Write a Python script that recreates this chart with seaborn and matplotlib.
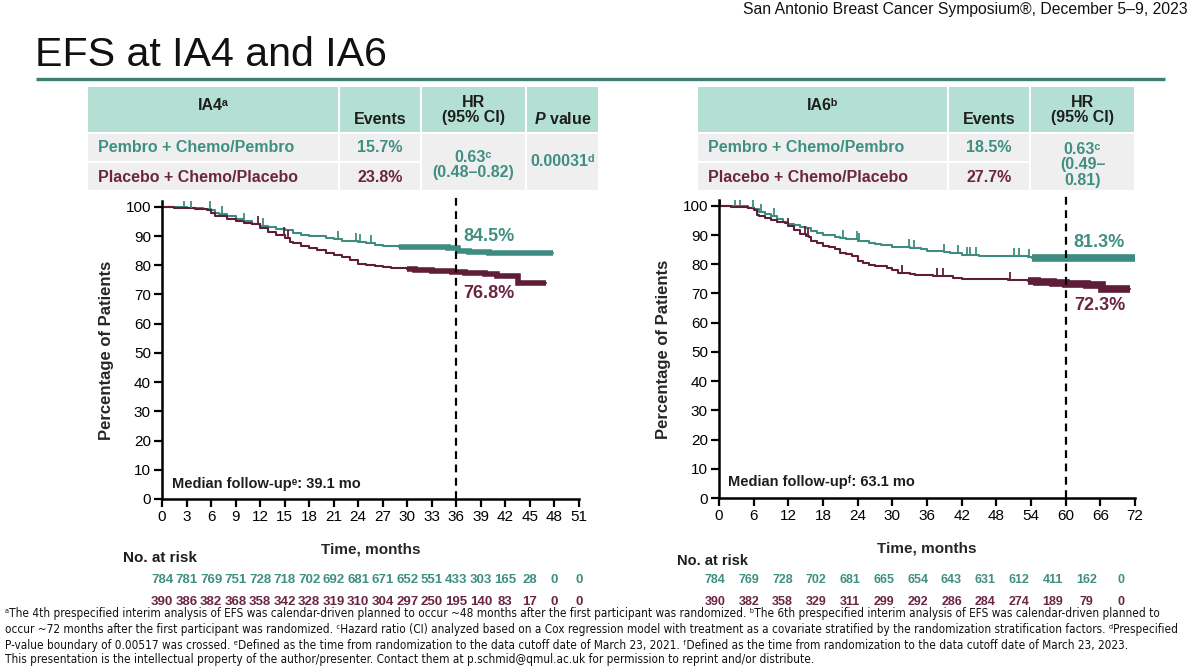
import numpy as np
import pandas as pd
import matplotlib
matplotlib.use("Agg")
import matplotlib.pyplot as plt
import matplotlib.transforms as mtrans
from matplotlib.patches import Rectangle
from matplotlib import font_manager
import seaborn as sns

TEAL = "#3e8c80"
MAROON = "#5e1e38"
TEAL_TXT = "#3f8f82"
MAROON_TXT = "#6b2543"
MINT = "#b4e0d4"
GREY = "#efefef"
INK = "#1e1e1e"

arms = ["Pembro + Chemo/Pembro", "Placebo + Chemo/Placebo"]

# ---- IA4 Kaplan-Meier steps (months, % event-free) ----
ia4_pem_t = [0, 1.5, 3, 5, 6, 6.5, 7, 8, 9, 10, 11, 12, 13, 14, 15, 16, 17, 18, 20, 21,
             22, 24, 25, 26, 27, 29, 31, 33, 35, 36.2, 37.5, 40, 47.8]
ia4_pem_s = [100, 99.8, 99.5, 99.2, 98.8, 98.0, 97.5, 96.7, 95.8, 95.0, 94.2, 93.5, 93.0, 92.5,
             92.0, 91.2, 90.4, 90.0, 89.5, 88.9, 88.4, 88.1, 87.5, 87.0, 86.6, 86.4, 86.3, 86.2,
             86.0, 84.9, 84.5, 84.1, 84.1]
ia4_pla_t = [0, 1.5, 4, 5.5, 6, 6.5, 8, 9, 10, 11, 12, 13, 14, 15, 15.7, 16, 17, 18, 19, 20,
             21, 22, 23, 24, 25, 26, 27, 28, 30, 31, 33, 35.5, 37, 39.5, 41, 43.5, 47]
ia4_pla_s = [100, 99.5, 99.2, 98.8, 98.0, 96.8, 96.0, 95.0, 94.5, 94.0, 92.8, 91.5, 90.2, 89.5,
             88.0, 87.5, 86.5, 86.0, 85.3, 84.2, 83.6, 83.0, 81.8, 80.6, 80.1, 79.8, 79.4, 78.9,
             78.6, 78.3, 77.9, 77.6, 77.3, 77.0, 76.2, 73.9, 73.9]
ia4_pem_cens = [2.7, 3.6, 5.9, 7.3, 10.0, 12.3, 21.5, 23.7, 24.2, 25.5]
ia4_pla_cens = [11.8, 14.9, 15.4]
ia4_dense_from = [29, 30]      # heavy censoring from here on (pembro, placebo)

# ---- IA6 ----
ia6_pem_t = [0, 3, 5, 6, 7, 8, 9, 10, 11, 12, 13, 14, 15, 16, 17, 18, 20, 21, 22, 24,
             26, 27, 28, 30, 33, 35, 36, 39, 40, 42, 45, 48, 53.5, 54.2, 72]
ia6_pem_s = [100, 99.8, 99.4, 98.9, 98.0, 97.2, 96.5, 95.5, 94.6, 93.8, 93.3, 92.8, 92.3, 91.3,
             90.6, 90.1, 89.5, 89.0, 88.5, 88.0, 87.3, 86.9, 86.5, 85.9, 85.6, 85.1, 84.5, 84.2,
             83.8, 83.2, 82.9, 82.8, 82.6, 82.2, 82.2]
ia6_pla_t = [0, 2, 3, 5, 6, 6.5, 7, 8, 9, 10, 11.5, 12, 13, 14, 15, 15.5, 16, 17, 18, 19,
             20, 21, 22, 23, 24, 25, 26, 27, 29, 30, 31, 33, 34, 37, 39, 40.5, 42, 45, 48, 50,
             52, 53.5, 55, 57.8, 60, 63.7, 66.3, 71.1]
ia6_pla_s = [100, 99.7, 99.5, 99.2, 98.5, 97.0, 96.5, 95.8, 95.2, 94.6, 94.0, 93.0, 91.7, 90.5,
             89.8, 89.3, 88.0, 87.4, 86.3, 85.8, 85.3, 83.8, 83.4, 83.0, 81.0, 80.3, 79.9, 79.5,
             78.7, 78.0, 77.1, 76.8, 76.2, 76.1, 75.9, 75.3, 75.0, 74.9, 74.8, 74.7, 74.5, 74.2,
             74.0, 73.5, 73.2, 72.9, 71.7, 71.7]
ia6_pem_cens = [2.7, 3.6, 5.9, 7.2, 9.6, 21.4, 23.9, 24.2, 32.8, 33.7, 39.0, 41.3, 43.0, 43.5,
                44.5, 51.0, 52.0, 53.7]
ia6_pla_cens = [0.1, 12.0, 14.9, 15.4, 31.6, 37.7, 38.8, 50.3]
ia6_dense_from = [54.2, 53.5]

# ---- number at risk ----
ia4_risk_t = list(range(0, 52, 3))
ia4_risk_pem = [784, 781, 769, 751, 728, 718, 702, 692, 681, 671, 652, 551, 433, 303, 165, 28, 0, 0]
ia4_risk_pla = [390, 386, 382, 368, 358, 342, 328, 319, 310, 304, 297, 250, 195, 140, 83, 17, 0, 0]
ia6_risk_t = list(range(0, 73, 6))
ia6_risk_pem = [784, 769, 728, 702, 681, 665, 654, 643, 631, 612, 411, 162, 0]
ia6_risk_pla = [390, 382, 358, 329, 311, 299, 292, 286, 284, 274, 189, 79, 0]

# ---- summary tables ----
ia4_header = ["IA4ᵃ", "Events", "HR\n(95% CI)", "$P$ value"]
ia4_events = ["15.7%", "23.8%"]
ia4_hr = "0.63ᶜ\n(0.48–0.82)"
ia4_p = "0.00031ᵈ"
ia6_header = ["IA6ᵇ", "Events", "HR\n(95% CI)"]
ia6_events = ["18.5%", "27.7%"]
ia6_hr = "0.63ᶜ\n(0.49–\n0.81)"

footnotes = [
    "ᵃThe 4th prespecified interim analysis of EFS was calendar-driven planned to occur ~48 months after the first participant was randomized. ᵇThe 6th prespecified interim analysis of EFS was calendar-driven planned to",
    "occur ~72 months after the first participant was randomized. ᶜHazard ratio (CI) analyzed based on a Cox regression model with treatment as a covariate stratified by the randomization stratification factors. ᵈPrespecified",
    "P-value boundary of 0.00517 was crossed. ᵉDefined as the time from randomization to the data cutoff date of March 23, 2021. ᶠDefined as the time from randomization to the data cutoff date of March 23, 2023.",
    "This presentation is the intellectual property of the author/presenter. Contact them at p.schmid@qmul.ac.uk for permission to reprint and/or distribute.",
]

sns.set_theme(style="ticks")
plt.rcParams["font.family"] = ["Liberation Sans", "DejaVu Sans"]
plt.rcParams["mathtext.fontset"] = "custom"
plt.rcParams["mathtext.it"] = "Liberation Sans:italic:bold"
plt.rcParams["mathtext.rm"] = "Liberation Sans:bold"

# narrow face for the footnotes, if there is one
NARROW, STRETCH = "Liberation Sans", "normal"
for f in font_manager.fontManager.ttflist:
    if f.name == "Liberation Sans Narrow":
        NARROW, STRETCH = f.name, "normal"
        break
    if f.name == "DejaVu Sans" and "condensed" in str(f.stretch):
        NARROW, STRETCH = "DejaVu Sans", "condensed"

fig = plt.figure(figsize=(12, 6.72), dpi=100)

# pixel canvas for slide furniture
bg = fig.add_axes([0, 0, 1, 1], zorder=0)
bg.set_xlim(0, 1200)
bg.set_ylim(672, 0)
bg.axis("off")

bg.text(1188, 14, "San Antonio Breast Cancer Symposium®, December 5–9, 2023",
        ha="right", va="baseline", fontsize=11.3, color="#111111")
bg.text(35, 66, "EFS at IA4 and IA6", ha="left", va="baseline", fontsize=29.6, color="#111111")
bg.plot([36, 1165], [79, 79], color="#3b7f75", lw=2.4, solid_capstyle="butt")


def draw_table(col_edges, header, events, hr, p=None):
    rows = [(87, 132), (134, 161), (163, 190)]
    for i in range(len(col_edges) - 1):
        x0, x1 = col_edges[i] + 1, col_edges[i + 1] - 1
        bg.add_patch(Rectangle((x0, rows[0][0]), x1 - x0, rows[0][1] - rows[0][0], color=MINT, lw=0))
        if i < 2:
            for r0, r1 in rows[1:]:
                bg.add_patch(Rectangle((x0, r0), x1 - x0, r1 - r0, color=GREY, lw=0))
        else:
            bg.add_patch(Rectangle((x0, rows[1][0]), x1 - x0, rows[2][1] - rows[1][0], color=GREY, lw=0))
    mid = [(col_edges[i] + col_edges[i + 1]) / 2 for i in range(len(col_edges) - 1)]
    kw = dict(fontsize=11.5, fontweight="bold", ha="center", va="center")
    bg.text(mid[0], 106, header[0], color=INK, **kw)
    bg.text(mid[1], 119, header[1], color=INK, **kw)
    bg.text(mid[2], 110, header[2], color=INK, linespacing=1.05, **kw)
    if p is not None:
        bg.text(mid[3], 119, header[3], color=INK, **kw)
        bg.text(mid[3], 162, p, color=TEAL_TXT, **kw)
    for (y, c), arm, ev in zip([(148, TEAL_TXT), (177, MAROON_TXT)], arms, events):
        bg.text(col_edges[0] + 11, y, arm, color=c, fontsize=11.5, fontweight="bold",
                ha="left", va="center")
        bg.text(mid[1], y, ev, color=c, **kw)
    bg.text(mid[2], 165, hr, color=TEAL_TXT, linespacing=1.05, **kw)


draw_table([87, 339, 421, 526, 599], ia4_header, ia4_events, ia4_hr, ia4_p)
draw_table([697, 948, 1030, 1135], ia6_header, ia6_events, ia6_hr)


def step_at(t_list, s_list, times):
    idx = np.searchsorted(t_list, times, side="right") - 1
    return np.asarray(s_list)[idx]


def km_panel(rect, pem, pla, cens, dense_from, band_lw, xmax, xstep, cut, labels, followup,
             risk, risk_fs, risk_squeeze):
    ax = fig.add_axes(rect, zorder=2)
    ax.patch.set_alpha(0)
    df = pd.concat([
        pd.DataFrame({"month": pem[0], "pct": pem[1], "arm": arms[0]}),
        pd.DataFrame({"month": pla[0], "pct": pla[1], "arm": arms[1]}),
    ])
    pal = {arms[0]: TEAL, arms[1]: MAROON}
    sns.lineplot(data=df, x="month", y="pct", hue="arm", palette=pal, estimator=None,
                 sort=False, drawstyle="steps-post", lw=1.5, legend=False, ax=ax)
    dense = pd.concat([df[(df.arm == a) & (df.month >= d)] for a, d in zip(arms, dense_from)])
    sns.lineplot(data=dense, x="month", y="pct", hue="arm", palette=pal, estimator=None,
                 sort=False, drawstyle="steps-post", lw=band_lw, legend=False,
                 solid_capstyle="butt", solid_joinstyle="miter", ax=ax)
    for (t, s), ct, col in zip([pem, pla], cens, [TEAL, MAROON]):
        ax.plot(ct, step_at(t, s, ct), ls="none", marker=2, ms=6, mew=1.3, color=col)

    ax.axvline(cut, ymin=0, ymax=1.02, color="black", ls=(0, (3.5, 2.5)), lw=1.6, clip_on=False)

    ax.set_xlim(0, xmax)
    ax.set_ylim(0, 102)
    ax.set_xticks(range(0, xmax + 1, xstep))
    ax.set_yticks(range(0, 101, 10))
    ax.tick_params(direction="out", length=6, width=1.6, labelsize=11, pad=2, colors="black")
    for sp in ["left", "bottom"]:
        ax.spines[sp].set_linewidth(1.8)
        ax.spines[sp].set_color("black")
    sns.despine(ax=ax)
    ax.set_xlabel("Time, months", fontsize=11, fontweight="bold")
    ax.set_ylabel("Percentage of Patients", fontsize=12, fontweight="bold")
    ax.xaxis.set_label_coords(0.5, -0.145)
    ax.yaxis.set_label_coords(-0.115, 0.5)

    for (x, y, txt), col in zip(labels, [TEAL_TXT, MAROON_TXT]):
        ax.text(x, y, txt, color=col, fontsize=13, fontweight="bold", ha="left", va="center")
    ax.text(followup[0], followup[1], followup[2], fontsize=10.5, fontweight="bold",
            ha="left", va="center", color=INK)

    tr = mtrans.blended_transform_factory(ax.transData, bg.transData)
    t_risk, n_pem, n_pla = risk
    xs = [t * risk_squeeze[0] + risk_squeeze[1] for t in t_risk]
    for x, a, b in zip(xs, n_pem, n_pla):
        ax.text(x, 580, str(a), transform=tr, ha="center", va="center", fontsize=risk_fs,
                fontweight="bold", color=TEAL_TXT, clip_on=False)
        ax.text(x, 602, str(b), transform=tr, ha="center", va="center", fontsize=risk_fs,
                fontweight="bold", color=MAROON_TXT, clip_on=False)
    return ax


km_panel([162 / 1200, 1 - 499 / 672, 417 / 1200, 298 / 672],
         (ia4_pem_t, ia4_pem_s), (ia4_pla_t, ia4_pla_s), [ia4_pem_cens, ia4_pla_cens],
         ia4_dense_from, 4.0, 51, 3, 36,
         [(36.8, 90.0, "84.5%"), (36.8, 70.5, "76.8%")],
         (1.2, 5.1, "Median follow-upᵉ: 39.1 mo"),
         (ia4_risk_t, ia4_risk_pem, ia4_risk_pla), 9.5, (1.0, 0.0))
km_panel([719 / 1200, 1 - 498 / 672, 416 / 1200, 298 / 672],
         (ia6_pem_t, ia6_pem_s), (ia6_pla_t, ia6_pla_s), [ia6_pem_cens, ia6_pla_cens],
         ia6_dense_from, 5.5, 72, 6, 60,
         [(61.4, 87.6, "81.3%"), (61.4, 65.8, "72.3%")],
         (1.6, 5.5, "Median follow-upᶠ: 63.1 mo"),
         (ia6_risk_t, ia6_risk_pem, ia6_risk_pla), 9, (0.975, -0.7))

bg.text(123, 558, "No. at risk", fontsize=11, fontweight="bold", ha="left", va="center", color=INK)
bg.text(677, 561, "No. at risk", fontsize=10.5, fontweight="bold", ha="left", va="center", color=INK)

# footnotes: fit the first line to the slide width, reuse that size
fn = [bg.text(5, y, line, fontsize=8, family=[NARROW, "DejaVu Sans"], fontstretch=STRETCH,
              ha="left", va="center", color="#111111")
      for y, line in zip([614, 630, 645, 660], footnotes)]
fig.canvas.draw()
w = fn[0].get_window_extent().width
for t in fn:
    t.set_fontsize(8 * 1147 / w)

fig.savefig("out.png", dpi=100)
